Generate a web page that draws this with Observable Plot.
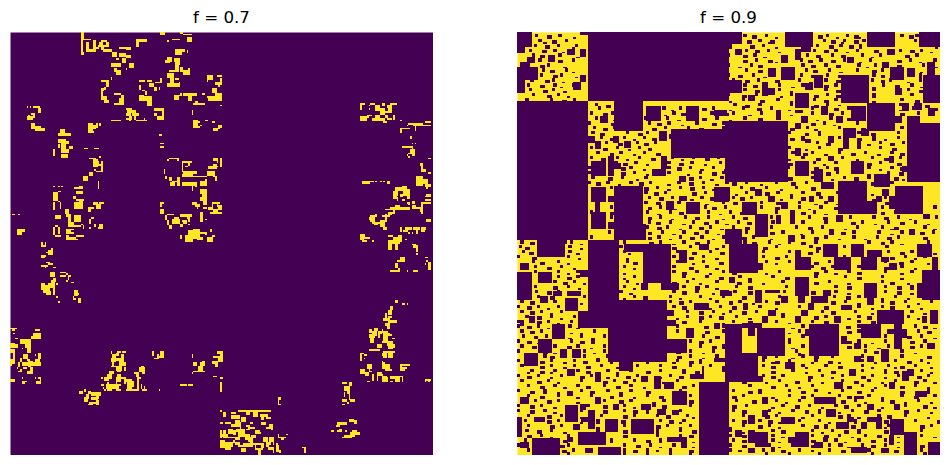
<!DOCTYPE html>
<html><head><meta charset="utf-8">
<script src="https://cdn.jsdelivr.net/npm/d3@7"></script>
<script src="https://cdn.jsdelivr.net/npm/@observablehq/plot@0.6"></script>
<style>
html,body{margin:0;padding:0;background:#fff;}
#page{position:relative;width:950px;height:465px;overflow:hidden;font-family:"DejaVu Sans",sans-serif;}
.title{position:absolute;top:7px;width:423px;text-align:center;font-size:16.7px;line-height:20px;color:#000;}
.panel{position:absolute;top:32px;width:423px;height:423px;}
.panel svg{display:block;}
</style></head><body><div id="page"></div>
<script>
const titles = ["f = 0.7", "f = 0.9"];
const gridSize = 256;
const darkColor = "#440154";
const brightColor = "#fde725";

// f = 0.7: bright clusters [x, y, w, h], in grid cells
const brightTop = [[43,0,2,4],[43,4,1,10],[44,4,5,1],[46,6,2,6],[46,10,6,2],[50,5,2,5],[44,12,1,2],[55,5,4,1],[54,6,2,2],[58,6,2,3],[53,8,7,1],[55,9,2,2],[56,10,6,2],[51,9,3,1],[66,9,4,1],[70,9,3,2],[62,12,3,3],[66,13,4,2],[70,14,3,2],[64,16,2,1],[68,16,2,3],[61,19,6,2],[72,19,3,3],[63,22,2,2],[64,23,3,3],[70,22,1,1],[76,4,7,2],[76,6,2,3],[91,0,3,2],[103,0,2,1],[105,1,5,1],[107,3,3,3],[98,4,5,1],[95,5,1,1],[100,10,5,2],[100,12,4,2],[105,10,1,2],[95,15,3,3],[94,17,3,2],[99,16,4,2],[107,11,1,2],[100,18,3,2],[100,20,2,3],[103,21,2,3],[96,23,6,1],[105,23,4,3],[108,22,1,1],[95,25,4,3],[97,28,2,3],[95,31,8,2],[102,30,1,3],[100,28,2,1],[78,29,4,1],[83,29,3,1],[84,31,3,2],[88,30,4,1],[91,28,1,3],[87,33,2,3],[78,32,1,3],[80,35,2,1],[82,36,1,2],[90,33,1,2],[55,29,5,1],[58,30,2,3],[55,34,2,2],[57,33,1,2],[55,36,1,3],[55,39,4,2],[57,41,3,2],[61,27,1,2],[63,37,4,1],[67,38,2,2],[66,40,3,3],[63,43,4,1],[67,42,2,2],[78,38,3,1],[78,39,8,3],[83,42,3,2],[83,44,3,1],[99,38,4,1],[99,39,3,2],[103,37,1,2],[105,37,8,2],[108,39,2,3],[112,37,1,1],[116,37,2,1],[122,34,3,3],[124,37,4,2],[119,39,8,1],[120,40,7,2],[111,43,7,1],[112,42,2,1],[119,26,4,3],[125,26,2,1],[124,30,3,2],[126,32,1,1],[119,28,1,2],[110,47,1,3],[70,46,4,1],[71,47,5,2],[70,49,3,2],[74,49,4,2],[72,51,2,2],[75,50,1,3],[70,52,2,1],[87,46,6,2],[92,48,1,3],[87,49,2,2],[89,51,4,2],[61,53,6,1],[72,53,1,1],[76,53,7,1],[81,52,1,1],[47,55,3,6],[50,56,2,3],[52,55,1,3],[54,55,1,2],[111,53,3,4],[114,54,1,1],[115,56,1,1],[111,57,4,1],[118,53,2,1],[122,54,2,1],[126,56,1,3],[123,58,3,2],[10,45,1,1],[12,45,1,1],[14,45,4,1],[17,46,2,3],[13,49,2,1],[11,50,1,1],[10,51,4,2],[14,50,1,2],[13,55,2,2],[13,57,6,2],[19,58,2,1],[15,59,6,1],[90,62,2,1]];
const brightMiddle = [[30,59,3,2],[29,61,8,2],[29,65,5,2],[33,66,3,2],[29,68,1,2],[31,67,3,6],[34,71,2,2],[36,69,2,2],[31,74,4,2],[26,71,1,4],[50,60,1,1],[45,70,2,1],[51,70,3,1],[91,67,2,1],[91,69,2,1],[48,76,3,1],[50,77,3,5],[53,78,1,3],[51,76,1,1],[54,75,1,1],[55,78,1,7],[53,80,3,1],[52,84,3,1],[48,85,2,2],[51,83,1,1],[44,87,3,3],[53,90,1,5],[26,93,1,1],[29,93,1,1],[31,93,1,1],[29,96,2,1],[26,97,3,5],[29,102,1,1],[39,94,3,1],[42,93,2,2],[40,96,4,2],[38,99,2,2],[40,101,5,1],[42,102,2,5],[39,103,3,4],[50,103,3,2],[54,103,3,1],[52,104,3,3],[47,106,2,3],[47,106,4,1],[26,103,1,5],[30,103,1,4],[33,107,3,3],[34,110,3,2],[35,112,2,3],[39,111,4,4],[35,115,4,3],[38,117,5,1],[43,116,1,1],[37,119,2,1],[27,111,4,2],[26,118,1,5],[29,118,1,4],[27,123,4,1],[27,117,2,1],[34,119,3,3],[37,121,2,1],[34,123,2,3],[36,124,4,1],[40,123,4,1],[44,123,1,1],[34,125,7,1],[44,117,1,2],[48,113,1,3],[49,112,2,1],[51,116,1,2],[54,116,2,3],[48,118,1,1],[53,118,1,1],[1,110,2,1],[5,110,1,1],[4,119,5,2],[4,121,3,2],[8,119,1,1],[19,127,1,3],[21,127,1,3],[19,129,3,1],[23,132,3,3],[25,131,1,1],[22,133,3,1],[19,135,3,1],[19,136,2,1],[22,139,2,1],[19,141,4,1],[23,140,3,1],[21,142,1,1],[26,142,2,1],[24,145,3,3],[26,149,2,2],[25,150,2,3],[26,153,1,6],[23,152,3,3],[19,153,5,3],[20,156,4,1],[20,157,5,1],[22,158,3,1],[19,152,2,1],[29,163,1,1],[28,160,1,1],[28,152,1,1],[30,145,4,1],[30,147,4,1],[34,146,1,1],[35,147,2,1],[35,148,1,2],[34,150,1,1],[37,151,2,1],[39,156,2,4],[41,158,1,1],[39,161,1,1],[41,161,2,3],[38,160,1,2],[95,77,1,1],[96,76,6,1],[101,76,1,2],[93,83,1,3],[94,87,1,2],[96,88,2,2],[98,90,3,1],[97,91,3,2],[102,88,1,1],[104,78,1,7],[104,78,6,1],[108,79,1,2],[106,81,2,1],[105,84,8,2],[104,86,7,2],[101,88,2,5],[104,91,8,2],[111,87,8,1],[112,91,1,2],[118,89,1,1],[115,90,4,3],[123,76,3,2],[125,78,1,1],[123,80,2,1],[120,81,5,2],[119,84,5,3],[125,81,1,1],[123,87,2,1],[124,87,1,3],[110,93,1,3],[112,91,1,3],[115,95,4,3],[116,98,3,2],[115,100,4,2],[117,102,2,3],[110,103,3,2],[112,104,3,2],[113,106,1,1],[117,106,2,1],[122,103,5,1],[122,104,1,3],[125,104,1,2],[120,106,3,2],[123,107,3,2],[121,109,7,1],[126,105,1,3],[91,103,2,1],[91,104,1,2],[91,107,2,3],[95,110,4,1],[94,111,1,3],[99,112,3,1],[98,113,5,3],[103,110,7,2],[107,112,2,1],[104,114,3,1],[105,115,2,1],[108,113,1,2],[95,114,1,3],[96,117,2,2],[103,116,2,2],[108,116,1,1],[115,109,2,6],[118,113,1,1],[103,123,1,2],[108,120,3,3],[106,123,5,4],[111,119,4,6],[115,121,4,1],[118,122,1,1],[113,124,4,2],[121,119,1,2],[121,125,1,1],[119,124,4,3],[122,126,1,1],[122,123,2,1]];
const brightLower = [[0,179,4,1],[1,180,2,1],[15,180,3,1],[14,182,5,3],[13,184,6,2],[2,182,1,1],[3,185,2,1],[6,186,7,3],[9,189,4,2],[10,191,3,3],[7,191,1,1],[0,188,3,3],[3,189,2,2],[0,192,3,1],[0,193,2,1],[2,193,1,5],[0,198,3,3],[0,201,1,1],[8,195,3,3],[10,198,2,1],[15,195,1,1],[17,194,2,4],[15,198,3,2],[13,200,6,2],[5,200,1,3],[6,197,1,3],[7,200,4,2],[11,199,3,2],[11,201,2,2],[12,203,2,3],[10,205,4,2],[8,203,2,1],[6,204,1,2],[4,203,1,1],[5,205,1,1],[0,210,3,2],[7,209,1,1],[7,211,3,1],[7,212,2,1],[15,209,1,1],[17,209,2,1],[18,210,1,3],[16,211,2,2],[61,193,1,2],[65,193,2,1],[68,193,2,1],[64,194,2,2],[62,195,2,2],[67,195,2,2],[61,197,3,3],[66,197,3,2],[62,200,1,2],[66,199,3,3],[64,202,4,3],[65,205,2,1],[69,203,1,2],[60,205,3,2],[59,207,3,3],[65,207,2,2],[64,209,3,3],[67,209,3,1],[64,212,1,2],[55,209,1,1],[57,209,3,2],[59,212,1,1],[55,213,2,1],[58,213,3,3],[61,213,2,3],[56,215,1,1],[59,216,3,1],[57,216,1,1],[63,213,4,1],[63,214,3,2],[64,216,3,1],[69,210,5,2],[73,211,2,2],[71,212,2,3],[69,212,1,1],[71,215,3,1],[70,216,7,1],[79,202,2,2],[78,203,4,3],[75,206,3,1],[76,207,2,2],[77,209,2,1],[77,210,1,7],[79,213,1,3],[80,216,3,1],[81,214,1,2],[86,193,1,3],[87,197,3,1],[91,193,2,4],[89,196,2,1],[89,195,1,1],[90,216,1,1],[103,213,3,1],[106,213,1,1],[108,213,3,1],[110,195,1,2],[111,200,2,2],[116,199,2,1],[115,200,3,2],[114,202,3,3],[114,205,2,1],[111,205,1,1],[112,205,4,1],[115,205,3,1],[110,206,1,1],[125,193,4,2],[123,196,4,1],[127,193,2,4],[126,197,3,3],[122,199,4,2],[125,200,1,3],[124,201,2,2],[123,208,2,1],[127,209,2,1],[42,217,2,2],[45,216,1,2],[47,217,2,2],[49,218,6,2],[46,219,2,3],[52,220,2,2],[45,221,2,3],[49,221,4,2],[48,224,2,2],[52,223,2,3],[50,224,2,1],[47,225,1,1],[62,197,5,2],[66,200,4,2],[61,202,3,1],[72,213,3,2],[80,205,2,2]];
const brightRight = [[127,212,1,6],[127,229,1,1],[129,230,2,3],[134,230,3,1],[134,232,5,2],[138,229,9,1],[143,229,2,3],[147,230,3,3],[147,229,2,3],[149,229,5,1],[153,229,5,1],[151,231,5,2],[155,233,3,1],[152,233,2,2],[127,236,2,1],[130,236,2,1],[132,236,2,1],[134,237,5,2],[136,235,3,2],[139,236,1,4],[143,238,2,1],[143,240,2,1],[145,236,2,1],[157,237,2,2],[155,239,3,1],[158,239,1,2],[137,240,5,2],[138,242,4,3],[136,245,3,2],[144,239,4,1],[148,241,3,2],[151,242,1,1],[127,241,1,5],[129,241,2,5],[131,245,6,1],[127,247,3,5],[130,248,5,3],[135,247,1,2],[142,246,3,1],[144,245,3,3],[138,250,3,1],[141,249,4,2],[145,248,2,3],[147,249,1,1],[148,249,4,1],[148,250,1,3],[152,249,2,3],[148,252,5,1],[150,253,2,3],[157,245,3,3],[159,248,1,2],[156,251,4,2],[159,253,1,2],[155,250,2,1],[162,243,1,3],[163,245,4,1],[164,246,2,1],[167,243,1,1],[161,249,1,1],[161,250,2,4],[163,253,1,2],[177,251,2,1],[178,252,1,3],[162,221,2,2],[162,223,1,3],[163,225,1,1],[201,212,3,1],[205,212,2,2],[202,214,4,3],[204,217,2,2],[202,218,1,3],[201,222,3,2],[205,219,1,4],[206,222,3,2],[201,225,2,1],[204,224,1,1],[205,234,3,2],[208,235,2,2],[198,236,6,2],[197,238,3,1],[199,240,2,2],[198,241,2,1],[194,241,2,1],[203,241,1,1],[207,241,3,1],[206,242,5,2],[211,242,1,2],[205,244,4,1],[202,244,5,1],[201,245,6,1],[212,194,2,1],[212,195,1,4],[214,195,2,1],[214,197,1,1],[216,201,3,3],[217,204,1,1],[212,204,3,3],[215,206,2,2],[217,205,2,1],[217,180,2,2],[220,179,3,2],[219,181,3,3],[217,183,4,2],[218,185,2,3],[221,181,1,3],[223,181,2,2],[223,183,1,2],[227,170,1,3],[229,173,1,1],[230,166,2,2],[229,168,2,3],[229,172,2,1],[226,173,3,2],[229,174,5,2],[227,176,3,2],[229,178,1,1],[228,178,2,2],[225,180,1,2],[226,181,3,3],[228,183,3,1],[231,185,2,1],[229,182,1,1],[233,162,2,2],[237,164,2,1],[240,164,1,1],[226,184,3,2],[226,186,3,1],[225,187,3,1],[222,189,3,2],[228,187,4,3],[229,190,3,2],[231,189,2,2],[221,192,3,1],[226,193,4,1],[230,193,3,1],[225,194,3,2],[229,194,3,3],[226,196,2,1],[217,192,4,1],[225,199,1,1],[225,200,2,4],[227,201,3,3],[227,204,4,1],[236,201,2,1],[238,201,4,1],[236,203,4,1],[237,204,2,1],[236,202,1,3],[219,207,1,4],[222,206,3,2],[222,208,1,3],[216,211,2,1],[225,207,1,2],[225,208,3,4],[228,209,1,3],[230,208,6,2],[231,208,7,1],[230,211,2,1],[233,210,3,2],[237,209,1,3],[251,210,4,1],[251,211,1,1],[253,210,1,2],[213,126,3,1],[219,126,1,1],[229,126,7,2],[229,128,2,4],[233,128,2,4],[236,126,1,1],[243,128,3,1],[244,129,3,2],[246,131,1,2],[246,134,1,1],[234,138,2,1],[233,140,2,3],[236,136,3,3],[230,144,4,1],[235,143,1,2],[240,144,1,1],[244,144,3,1],[234,144,2,1],[251,136,2,1],[252,138,1,1],[251,140,1,1],[253,139,2,2],[253,141,2,3],[127,26,1,1],[127,28,1,4],[127,39,1,3],[127,44,1,1],[127,56,1,2],[127,76,1,6],[127,105,1,3],[212,43,3,1],[212,44,1,3],[217,44,1,1],[218,43,3,1],[221,44,3,2],[225,43,2,2],[230,43,2,1],[228,44,3,2],[225,46,2,1],[232,43,2,1],[229,46,2,3],[217,46,1,1],[221,46,6,2],[224,48,3,2],[227,48,2,1],[221,50,3,2],[227,50,2,2],[212,51,4,3],[216,51,1,1],[216,50,3,1],[219,52,6,2],[225,52,2,2],[228,52,3,1],[232,50,1,3],[226,54,2,1],[236,53,1,1],[240,56,1,1],[241,55,2,1],[243,55,3,1],[244,55,6,2],[250,56,3,1],[253,56,2,1],[239,58,3,1],[236,58,3,1],[236,59,1,2],[245,57,1,3],[251,54,4,1],[242,63,1,2],[243,67,1,1],[245,67,1,1],[237,69,6,1],[243,69,1,2],[242,71,3,2],[241,73,2,1],[243,73,2,2],[241,75,1,1],[240,74,1,1],[253,76,2,1],[248,79,2,2],[249,81,1,2],[249,83,3,2],[253,85,2,1],[246,87,4,6],[250,89,3,3],[251,92,4,2],[252,94,1,1],[213,90,5,2],[218,90,2,1],[221,90,1,1],[224,90,1,1],[226,90,1,1],[228,90,2,2],[233,94,4,2],[232,96,3,3],[237,93,3,3],[240,95,2,2],[232,99,2,2],[238,96,2,3],[236,98,2,2],[240,97,2,4],[234,100,1,2],[237,101,2,1],[251,99,2,1],[252,98,3,2],[251,101,4,1],[240,103,2,1],[243,102,2,2],[241,104,1,1],[230,106,12,2],[233,105,3,1],[227,107,3,1],[243,105,3,2],[244,106,4,1],[249,104,1,6],[248,106,1,3],[249,103,6,1],[231,109,1,1],[229,109,2,2],[232,108,1,2],[228,111,2,1],[226,111,1,1],[218,111,4,1],[218,112,3,3],[221,110,1,1],[217,112,4,2],[219,115,5,1],[220,116,3,1],[227,110,1,5],[225,111,2,1],[224,114,3,4],[226,118,2,2],[252,113,3,2],[236,118,1,3],[239,118,4,2],[238,120,3,1],[244,118,4,2],[246,120,1,2],[249,118,3,2],[249,120,2,1],[241,121,1,1],[243,121,1,1],[212,122,3,3],[215,124,3,1],[212,125,2,1],[229,123,3,1],[232,124,5,3],[231,126,4,1],[235,123,2,2],[239,125,1,1],[128,243,4,2],[132,240,3,3],[140,233,3,3],[135,241,2,3],[130,251,4,2],[142,243,3,3],[152,236,3,2],[146,244,3,2],[153,245,3,3],[155,248,3,2],[140,252,3,2],[136,248,3,2]];

// f = 0.9: dark holes [x, y, w, h], in grid cells
const holesTopLeft = [[0,0,9,9],[0,9,5,4],[2,18,5,3],[0,21,13,8],[0,29,5,8],[6,15,5,4],[19,14,4,4],[30,10,5,4],[34,30,5,5],[38,10,4,5],[38,26,4,4],[38,0,5,2],[43,0,85,42],[0,42,43,84],[12,126,18,2],[59,42,17,18],[93,59,34,17],[78,45,9,9],[102,45,8,9],[119,47,8,4],[45,78,9,9],[55,79,8,4],[55,75,4,12],[59,93,17,33],[45,94,9,9],[45,109,9,10],[47,103,3,6],[55,99,4,4],[55,115,4,4],[59,116,19,10],[102,103,9,7],[119,94,9,9],[90,102,5,6],[98,87,4,4],[98,99,5,3],[82,83,8,4],[87,75,4,8],[58,63,4,4],[86,60,5,6],[43,63,4,4],[47,66,4,5],[50,51,5,4],[65,66,4,4]];
const holesTopRight = [[126,0,10,7],[126,7,4,3],[132,10,4,4],[162,0,17,9],[172,9,6,3],[212,0,17,9],[243,0,13,9],[196,26,17,17],[246,26,10,17],[126,29,10,8],[160,21,8,8],[226,21,8,8],[180,26,5,8],[152,22,5,5],[236,22,5,5],[248,18,5,8],[160,14,4,5],[200,15,4,4],[168,10,4,7],[224,10,5,4],[221,18,4,4],[148,30,4,9],[148,34,8,4],[140,38,4,4],[168,37,9,9],[174,31,5,4],[229,34,4,4],[233,43,4,5],[240,43,5,4],[249,46,4,5],[202,45,9,9],[212,43,17,17],[229,51,4,4],[157,47,3,6],[168,47,5,2],[172,51,4,4],[184,45,4,5],[193,51,4,4],[236,55,20,36],[236,51,8,4],[126,54,38,37],[197,58,8,6],[197,63,4,8],[208,59,5,4],[188,63,4,4],[168,55,4,4],[174,65,4,2],[168,70,4,5],[188,75,4,3],[202,78,8,8],[168,78,9,9],[180,83,5,8],[216,86,10,8],[225,75,3,4],[233,81,3,4],[184,91,8,4],[194,90,18,20],[212,102,6,8],[229,93,17,17],[221,95,4,4],[225,99,4,8],[217,99,4,4],[126,94,3,8],[144,95,4,4],[152,99,4,4],[136,103,9,8],[160,103,4,4],[177,99,3,4],[188,99,4,4],[144,110,8,14],[126,119,10,9],[165,108,3,8],[157,111,3,5],[193,111,4,4],[189,119,3,4],[164,123,4,4],[237,119,4,4],[246,110,4,3]];
const holesBottomLeft = [[43,126,19,46],[76,128,17,24],[55,162,36,38],[37,169,18,10],[91,186,12,8],[91,168,4,4],[62,200,8,5],[12,128,17,8],[2,140,5,4],[0,145,9,17],[13,145,8,7],[22,157,5,3],[30,157,9,3],[14,160,5,4],[29,161,8,8],[38,144,5,4],[21,177,8,9],[13,186,8,8],[4,194,9,8],[33,192,6,5],[26,192,4,5],[7,172,4,4],[2,174,2,4],[30,204,5,4],[47,206,4,6],[75,208,4,4],[83,208,4,8],[89,212,6,4],[30,217,4,3],[94,217,9,9],[2,221,5,4],[47,221,4,4],[58,225,4,4],[29,226,8,10],[38,225,4,4],[75,225,6,4],[94,229,4,3],[43,229,4,11],[39,233,4,3],[53,234,8,8],[69,234,14,9],[10,233,7,3],[0,233,3,12],[34,237,4,4],[9,246,17,10],[37,242,17,8],[30,245,4,3],[91,245,12,3],[99,248,4,4],[41,252,5,3],[49,251,14,5],[2,248,5,4],[110,212,17,44],[85,228,5,4],[107,164,9,4],[102,179,5,6],[119,176,4,4],[91,174,5,4],[123,156,5,4],[98,132,5,8],[110,128,6,4],[119,197,8,3],[105,207,7,3],[112,202,1,8],[91,152,7,4],[87,152,4,4],[65,128,11,5],[75,152,4,4]];
const holesBottomRight = [[128,128,18,18],[126,126,10,2],[146,140,3,4],[168,136,10,8],[168,132,4,4],[185,128,9,8],[192,136,10,8],[202,128,8,8],[208,136,10,8],[212,132,9,4],[242,128,9,8],[251,136,4,8],[245,144,11,18],[242,152,3,9],[225,140,5,4],[220,136,5,3],[168,148,9,12],[170,160,4,4],[210,152,8,9],[212,161,4,4],[180,160,8,4],[185,156,5,4],[128,148,4,4],[144,156,4,8],[150,156,9,2],[160,160,4,4],[126,157,4,3],[137,164,3,4],[152,168,5,4],[148,172,4,4],[168,172,4,4],[172,168,4,4],[176,164,4,4],[192,172,4,4],[196,165,7,3],[218,168,16,9],[228,177,5,15],[233,180,3,5],[208,177,12,8],[224,180,4,3],[250,168,5,9],[245,172,3,4],[126,177,10,17],[145,179,17,17],[136,176,12,3],[140,179,4,5],[177,177,18,19],[174,180,3,4],[196,184,4,5],[204,188,4,4],[126,194,20,18],[146,208,3,4],[162,200,6,4],[248,188,5,4],[220,192,5,8],[204,196,4,4],[212,196,4,4],[170,194,2,2],[236,204,4,4],[233,205,4,6],[201,204,4,4],[192,212,5,4],[225,212,4,4],[126,212,2,44],[241,217,7,4],[180,221,13,4],[187,228,6,5],[204,220,6,2],[148,221,4,4],[228,225,4,4],[212,225,4,4],[148,229,4,4],[140,232,4,5],[160,233,8,4],[200,233,4,3],[212,233,9,3],[217,236,4,4],[226,234,8,10],[225,244,3,6],[193,236,8,4],[208,236,4,4],[132,241,4,4],[144,242,8,9],[140,241,4,8],[168,242,9,9],[164,245,4,4],[234,242,8,14],[180,248,5,4],[202,251,10,4],[249,248,7,8],[220,252,5,3],[140,252,4,3],[154,251,2,3],[185,245,3,3],[194,249,3,2]];

// f = 0.9: small dark specks, one row per line: [y, x, x, x, ...]
// speckRows are 2x2 cells, wideSpeckRows 3x2, flatSpeckRows 2x1
const speckRows = [
[1,11,25,137,150,187,199,232,241],[4,13,29,130,146,185,197,209,240],[7,10,24,35,148,181,195,207,253],
[10,7,22,138,151,179,192,205,231,244],[13,9,25,127,143,175,190,208,219,241],[16,13,33,144,171,183,197,213,237,252],
[19,6,18,127,141,172,186,206,216,245],[22,15,29,138,174,188,205,220],[25,14,26,127,142,171,187,215,243],
[28,8,21,130,145,170,186,214,225,243],[31,6,22,33,137,158,172,192,221,238],[34,7,21,137,158,186,215,236],
[37,9,24,127,144,165,187,215,238],[40,5,20,34,136,157,179,192,232,247],[43,47,131,146,165,187,231],
[45,49,88,98,118,136,153,178,200,239],[48,44,57,94,117,130,147,178,196,242],[51,47,77,90,103,120,137,157,189,230],
[54,43,63,79,91,108,124,160,185,205],[57,46,58,71,89,103,124,175,194,232],[60,45,66,78,164,182,206,230],
[63,50,64,76,92,172,194,215,230],[66,53,72,83,181,206,219,233],[69,44,60,73,164,182,206,219],
[72,48,62,76,166,178,194,210,226],[75,44,60,73,93,106,121,172,196,214,231],[78,59,71,91,105,122,179,192,219],
[81,43,68,91,104,118,163,187,212,226],[84,43,70,91,110,124,178,193,224],[87,45,63,77,110,123,178,197,212],
[90,43,54,68,80,97,112,126,138,156,174,226],[93,56,84,98,112,135,150,168],[96,77,89,113,138,157,172,193],
[99,79,93,111,130,141,165,183,222],[102,77,97,124,147,170,186],[105,56,86,113,125,147,170,183,220,252],
[108,44,78,92,115,128,156,179,212,228],[111,56,86,101,115,130,153,176,201,215,230,253],[114,79,92,106,120,133,154,172,186,208,224,240],
[117,78,90,104,116,130,153,168,184,205,220,246],[120,55,87,100,114,138,160,178,203,218,232,251],[123,44,85,98,111,124,142,172,186,203,217,230],
[126,2,32,64,86,100,115,137,152,164,180,212,226,248],[129,1,31,62,104,124,156,177,197,223],[132,3,31,64,96,116,148,164,181,224,238],
[135,0,30,60,94,112,148,162,197,234,246],[138,9,24,66,96,112,150,164,188,222,238],[141,10,26,64,94,114,128,142,178,190,206,232],
[144,10,24,36,94,108,124,138,158,186,200,222,238],[147,24,36,70,100,114,134,154,180,198,220],[150,22,34,66,78,102,120,140,160,188,220],
[153,10,30,64,100,114,132,162,192,222,238],[156,11,24,62,94,108,131,161,192,222],[159,12,40,70,92,110,124,158,191,206,228],
[162,2,22,92,104,120,134,150,178,198,220,234,250],[165,0,12,24,94,108,122,146,170,206,220,236],[168,2,14,26,102,118,128,144,184,204,238],
[171,5,20,34,102,116,132,160,186,206,236],[174,0,18,32,110,130,156,178,192,206],[177,0,12,31,96,124,172,206,240],
[180,2,14,46,96,124,170,206,242],[183,3,17,38,52,112,126,172,222,244],[186,0,32,45,104,116,164,206,222,246],
[189,2,22,36,52,110,124,172,210,224,244],[192,0,40,52,104,118,150,168,210,232],[195,16,40,54,104,120,156,172,190,208,232],
[198,0,20,34,48,96,110,148,164,180,208,228,244],[201,2,20,34,50,72,86,104,116,148,172,186,208,224,240],[204,8,22,36,54,68,86,100,124,138,166,182,208,222,244],
[207,0,12,26,44,60,72,92,130,148,160,184,196,214,230,248],[210,2,18,38,58,70,96,130,142,158,176,196,212,228,246],[213,6,22,36,52,68,92,106,140,162,178,208,222,240],
[216,0,16,38,54,68,98,130,146,164,180,196,214,248],[219,6,24,44,62,78,104,136,164,178,194,212,232,252],[222,10,24,52,68,88,132,156,170,204,220,242],
[225,0,14,42,64,82,104,138,160,176,192,206,234],[228,0,16,38,64,78,98,130,152,166,182,202,218,242],[231,6,26,50,70,84,102,136,156,178,200,218,234],
[234,4,24,48,86,100,130,146,170,182,204,240],[237,6,26,64,90,104,136,152,172,186,224,250],[240,5,20,48,84,98,128,154,178,190,206,244],
[243,0,14,30,84,98,128,154,178,194,210,244],[246,4,56,70,86,130,154,192,206,222],[249,0,30,64,80,94,128,152,166,188,208,222],
[252,6,33,64,78,92,128,148,170,188,212,244],[254,30,64,78,92,104,150,164,182,214,246]
];
const wideSpeckRows = [
[2,18,142,182,204,237],[5,21,139,153,190,204],[8,17,141,189,201],
[11,15,144,186,216,238],[14,14,137,181,196,235],[17,25,137,152,176,190,230],
[20,14,146,178,193,230],[23,20,146,179,215],[26,22,134,178,194,220],
[29,17,138,156,193,220],[32,14,128,143,186,229],[35,16,144,193,243],
[38,18,136,180,193,250],[41,27,147,186,241],[44,54,138,180,247],
[46,79,112,145,192,252],[49,52,99,125,189,232],[52,83,112,146,200],
[55,57,85,118,148,178],[58,52,82,110,165,208],[61,50,73,174,214],
[64,56,82,165,206],[67,61,77,187,226],[70,52,79,194,227],
[73,56,84,173,202,232],[76,51,81,114,181,222],[79,64,98,164,212,230],
[82,63,97,180,192,232],[85,63,118,187,231],[88,55,104,164,204,228],
[91,48,74,104,130,166,214],[94,77,105,141,178],[97,83,106,150,181],
[100,86,117,135,172],[103,84,131,157,223],[106,79,118,156,192],
[109,56,98,135,172,220],[112,79,108,137,185,222],[115,84,113,139,202,232],
[118,85,110,138,176,228],[121,79,107,153,196,244],[124,79,105,136,180,224,246],
[127,8,80,108,142,172,220],[130,5,94,149,181],[133,7,106,123,176,232],
[136,9,104,156,226],[139,14,70,122,180,231],[142,18,104,134,184,222],
[145,17,100,130,180,206],[148,30,77,122,162,206],[151,28,94,133,180,226],
[154,22,108,140,200,230],[157,18,100,140,178,230],[160,20,76,136,178,199],
[163,8,98,128,156,190,226],[166,6,100,130,186,226],[169,8,110,136,190],
[172,12,110,122,180,212],[175,12,100,140,186,214],[178,6,113,199,246],
[181,8,114,200,248],[184,10,120,196,236],[187,6,38,110,200,238],
[190,9,30,118,200,238],[193,16,96,158,216],[196,20,97,148,180,248],
[199,14,40,104,156,188,236],[202,14,42,94,124,154,194,232],[205,14,42,78,108,154,190,228],
[208,6,38,66,98,154,176,208,242],[211,12,52,64,136,168,204,240],[214,14,42,60,100,154,200,232],
[217,8,44,78,140,172,206,232],[220,14,56,86,130,172,200,240],[223,18,62,104,142,196,226],
[226,8,52,88,130,168,198,246],[229,8,52,70,136,174,210,234],[232,18,64,90,150,194,224],
[235,18,63,92,136,152,222,254],[238,20,84,146,180,202,244],[241,12,64,106,160,198,222],
[244,6,64,104,136,186,218],[247,28,78,136,178,214],[250,26,72,136,178,214,244],
[253,27,70,104,160,196,228]
];
const flatSpeckRows = [
[3,34,156,193,206],[6,16,152,196],[9,33,156,207,253],
[12,27,158,199,250],[15,36,149,214],[18,156,207,243],
[21,28,134,211,253],[24,33,195,244],[27,35,149,243],
[30,27,177,236],[33,26,166,215,244],[36,28,165,243],
[39,30,159,215],[42,12,128,165,215],[44,165,194],
[47,93,128,164,231],[50,89,165,140],[53,58,97,128,181],
[56,70,99,191],[59,64,96,124,180],[62,92,182],
[65,70,172,215,222],[68,67,206,212],[71,67,174],
[74,70,186,218],[77,66,99,164,205],[80,78,113,185],
[83,76,111,125,219],[86,78,103,212],[89,72,117,190,233],
[92,61,91,120,147],[95,91,118,159],[98,84,132,165,214],
[101,105,159,215],[104,114,180,193],[107,95,118,176],
[110,85,122,186,248],[113,93,124,222,237],[116,100,126,216,248],
[119,98,123,198,226,252],[122,94,121,171,226],[125,92,118,153,194,210],
[128,38,94,158,232],[131,38,120],[134,36,67,123,252],
[137,37,66,120,240],[140,30,106,156,196,248],[143,34,70,120,198,240],
[146,30,64,116,150,192,232],[149,64,106,140,232],[152,40,72,110,148,200,236],
[155,37,70,120,238],[158,35,68,118,200,238],[161,64,98,116,220,236],
[164,38,112,142,206,242],[167,18,116,156,214,244],[170,20,124,160,214,246],
[173,26,96,140,200,242],[176,24,124,164],[179,18,36,166,252],
[182,32,38,164],[185,31,45,164,252],[188,12,45,164,214],
[191,44,124,166,218],[194,22,46,112,240],[197,48,112,166],
[200,28,56,78,94,110,154,178,194,216,248],[203,28,60,94,130,174,214,228,250],[206,6,20,60,100,138,174,222,250],
[209,20,54,86,138,190,222,242],[212,24,88,150,184,220,252],[215,28,76,154,170,216,248],
[218,16,24,62,146,188,248],[221,36,70,154,186,220],[224,36,82,162,210,234,250],
[227,22,70,154,184,220,252],[230,22,78,158,182,194,250],[233,38,106,172,206,248],
[236,38,48,98,158,188,204,254],[239,48,98,128,158,186,222],[242,28,84,136,184,206],
[245,20,92,160,202,230,252],[248,56,86,106,158,198,230],[251,56,86,106,158,200,230],
[253,56,84,134,178,196,244]
];

const rectChannels = {
  x1: d => d[0],
  x2: d => d[0] + d[2],
  y1: d => d[1],
  y2: d => d[1] + d[3],
  shapeRendering: "crispEdges"
};
const cellScales = {
  width: 423, height: 423, margin: 0,
  x: {domain: [0, gridSize], axis: null},
  y: {domain: [gridSize, 0], axis: null},
  style: {background: "#fff"}
};

const expand = (rows, w, h) => rows.flatMap(([y, ...xs]) => xs.map(x => [x, y, w, h]));
const brightCells = [...brightTop, ...brightMiddle, ...brightLower, ...brightRight];
const darkHoles = [...holesTopLeft, ...holesTopRight, ...holesBottomLeft, ...holesBottomRight];
const specks = [...expand(speckRows, 2, 2), ...expand(wideSpeckRows, 3, 2), ...expand(flatSpeckRows, 2, 1)];

const plotA = Plot.plot({...cellScales, marks: [
  Plot.frame({fill: darkColor, stroke: null}),
  Plot.rect(brightCells, {...rectChannels, fill: brightColor})
]});
const plotB = Plot.plot({...cellScales, marks: [
  Plot.frame({fill: brightColor, stroke: null}),
  Plot.rect(darkHoles, {...rectChannels, fill: darkColor}),
  Plot.rect(specks, {...rectChannels, fill: darkColor})
]});

const page = document.getElementById("page");
[[plotA, 10], [plotB, 517]].forEach(([svg, left], i) => {
  const t = document.createElement("div");
  t.className = "title"; t.style.left = left + "px"; t.textContent = titles[i];
  const p = document.createElement("div");
  p.className = "panel"; p.style.left = left + "px"; p.appendChild(svg);
  page.append(t, p);
});
</script></body></html>
